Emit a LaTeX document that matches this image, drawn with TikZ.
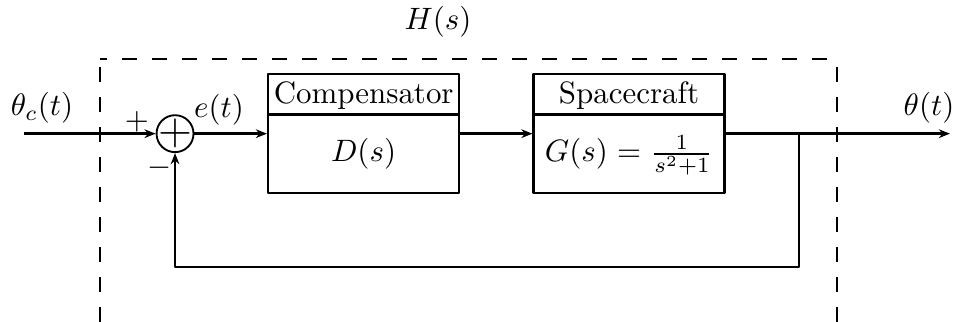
\documentclass[tikz,border=0pt]{standalone}
\usepackage{amsmath,amssymb}
\usepackage{tikz}
\usetikzlibrary{arrows.meta,positioning,shapes.multipart,calc}

\begin{document}
\begin{tikzpicture}[
    line join=round,
    blockbox/.style={draw, line width=0.8pt, rectangle split, rectangle split parts=2,
                     text width=2.04cm, inner xsep=1.8pt, inner ysep=0pt, align=center},
    sumnode/.style={draw, circle, line width=0.6pt, minimum size=0.42cm, inner sep=0pt,
                    label={[font=\Large,inner sep=0pt]center:$+$}},
    sig/.style={line width=0.8pt, -{Stealth[length=3.6pt,width=2.8pt]}},
    sysbox/.style={line width=0.8pt, dash pattern=on 4.85pt off 4.85pt},
    lbl/.style={inner sep=0pt},
  ]

  % ---------- geometry constants ----------
  \def\W{10.909}\def\H{3.659}         % page size
  \def\yM{2.14}                       % main signal line
  \def\xL{1.136}\def\xR{9.511}\def\yT{2.989}  % dashed H(s) frame
  \def\xB{9.08}\def\yF{0.625}         % feedback branch / bottom run
  % strut heights for the two parts of each block
  \def\titlestrut{\rule[-3.2pt]{0pt}{12.3pt}}
  \def\bodystrut{\rule[-9.8pt]{0pt}{24.57pt}}

  \useasboundingbox (0,0) rectangle (\W,\H);

  % ---------- BLOCKS ----------
  \node[sumnode] (sum) at (1.989,\yM) {};
  \node[blockbox] (comp) at (4.131,\yM)
    {\titlestrut Compensator\nodepart{two}\bodystrut$D(s)$};
  \node[blockbox] (plant) at (7.148,\yM)
    {\titlestrut Spacecraft\nodepart{two}\bodystrut$G(s)=\frac{1}{s^2+1}$};

  \coordinate (in) at (0.273,\yM);
  \coordinate (branch) at (\xB,\yM);
  \coordinate (fb) at (\xB,\yF);
  \coordinate (out) at (10.795,\yM);

  % ---------- SIGNALS ----------
  \draw[sig] (in) -- (sum);
  \draw[sig] (sum) -- (comp);
  \draw[sig] (comp) -- (plant);
  \draw[sig] (plant) -- (out);
  \draw[sig] (branch) -- (fb) -| (sum);

  % ---------- H(s) FRAME (runs off the bottom edge) ----------
  \draw[sysbox, dash phase=7.1pt] (\xL,\yT) -- (\xL,0);
  \draw[sysbox, dash phase=2.6pt] (\xL,\yT) -- (\xR,\yT);
  \draw[sysbox, dash phase=7.1pt] (\xR,\yT) -- (\xR,0);

  % ---------- LABELS ----------
  \node[lbl] (hlbl) at (4.977,3.409) {$H(s)$};
  \node[lbl] (ref) at (0.477,2.432) {$\theta_c(t)$};
  \node[lbl] (theta) at (10.557,2.432) {$\theta(t)$};
  \node[lbl] (plus) at (1.557,2.273) {$+$};
  \node[lbl] (minus) at (1.818,1.750) {$-$};
  \node[lbl] (err) at (2.489,2.409) {$e(t)$};

\end{tikzpicture}
\end{document}
